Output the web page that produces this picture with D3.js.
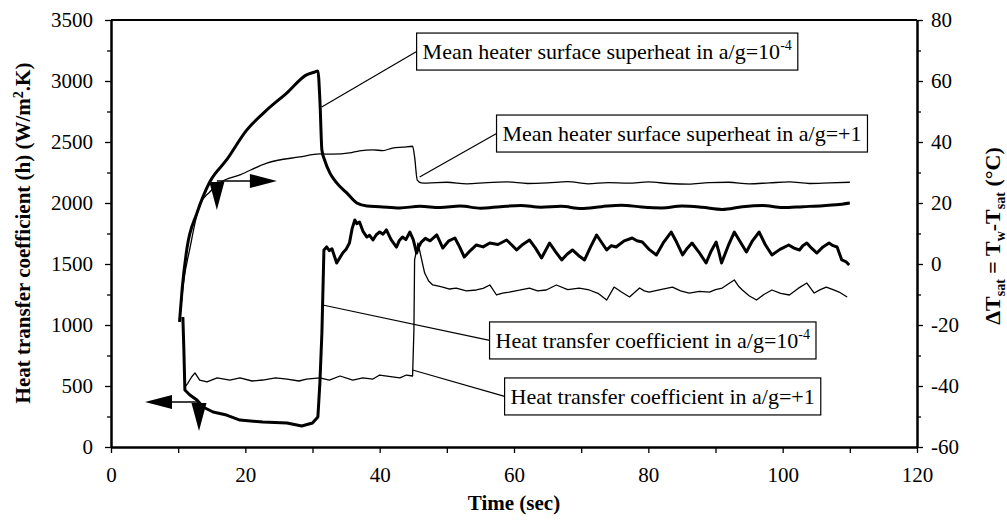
<!DOCTYPE html>
<html>
<head>
<meta charset="utf-8">
<script src="https://cdn.jsdelivr.net/npm/d3@7"></script>
<style>
body { margin: 0; background: #fff; }
text { font-family: "Liberation Serif", "Times New Roman", serif; fill: #000; }
.axis path, .axis line { stroke: #000; }
.axis .domain { stroke-width: 2; }
.axis .tick line { stroke-width: 1.3; }
.axis text { font-size: 21px; }
</style>
</head>
<body>
<script>
// superheat, a/g = 1e-4 (right axis, deg C)
var superheatMicroTime = [10.2, 10.6, 11.3, 12.8, 14.7, 17.2, 20.2, 23.2, 26.2, 29.1,
  30.4, 30.8, 31.1, 31.4, 31.8, 32.6, 33.6, 35.1, 36.6, 38.1,
  40, 43, 46, 49, 52, 55, 58, 61, 64, 67,
  70, 73, 76, 79, 82, 85, 88, 91, 94, 97,
  100, 103, 106, 108, 110];
var superheatMicro = [-19, -8, 5, 16.7, 26.9, 34.1, 43.9, 50.5, 56.1, 62.0,
  63.0, 63.3, 53.8, 37.4, 34.1, 29.8, 26.6, 23.3, 20.0, 19.0,
  18.8, 18.4, 18.9, 18.5, 19.0, 18.3, 18.8, 19.2, 18.6, 18.9,
  18.2, 18.8, 19.3, 18.7, 18.4, 19.0, 18.6, 17.9, 18.8, 19.2,
  18.5, 18.8, 19.1, 19.4, 20.0];

// superheat, a/g = +1 (right axis, deg C)
var superheatEarthTime = [10.2, 10.8, 11.7, 13.2, 14.7, 16.2, 19.2, 23.2, 28.1, 31.1,
  33, 35.5, 37, 39, 40.5, 41.9, 43.5, 44.9, 45.2, 45.6,
  46.2, 47, 50, 53, 56, 59, 62, 65, 68, 71,
  74, 77, 80, 83, 86, 89, 92, 95, 98, 101,
  104, 107, 110];
var superheatEarth = [-19, -6, 4.6, 19.3, 23.6, 26.6, 29.2, 33.1, 35.1, 36.1,
  36.0, 36.4, 37.1, 37.4, 37.2, 38.0, 38.3, 38.6, 35.1, 27.5,
  26.6, 26.5, 26.8, 26.3, 26.7, 26.9, 26.4, 26.6, 27.0, 26.3,
  26.7, 26.5, 26.9, 26.4, 26.2, 26.7, 26.8, 26.3, 26.6, 26.9,
  26.4, 26.6, 26.8];

// heat transfer coefficient, a/g = 1e-4 (left axis, W/m2.K)
var htcMicroTime = [10.7, 10.85, 11.0, 11.75, 12.8, 13.7, 15.2, 17.2, 19.2, 22.6,
  26.2, 28.4, 30.0, 30.8, 31.1, 31.4, 31.7, 32.1, 32.5, 32.9,
  33.6, 34.0, 34.5, 35.0, 35.5, 35.9, 36.3, 36.6, 37.0, 37.5,
  38.1, 38.5, 39.0, 39.5, 40.0, 40.5, 41.0, 41.7, 42.5, 42.9,
  43.4, 43.9, 44.5, 45.0, 45.5, 45.8, 46.2, 46.8, 47.5, 48.5,
  49.0, 49.4, 50.3, 51.2, 51.9, 52.6, 53.5, 54.4, 55.4, 56.4,
  57.6, 58.9, 59.6, 60.4, 61.3, 62.3, 63.2, 64.1, 64.7, 65.3,
  66.2, 67.1, 67.9, 68.7, 69.6, 70.5, 71.4, 72.3, 73.0, 73.8,
  74.5, 75.2, 76.4, 77.6, 78.3, 79.1, 80.1, 81.2, 82.3, 83.4,
  84.2, 85.1, 85.8, 86.5, 87.5, 88.6, 89.3, 90.1, 90.5, 90.9,
  91.9, 92.8, 93.7, 94.6, 95.5, 96.5, 97.4, 98.4, 99.6, 100.9,
  101.7, 102.5, 103.0, 103.6, 104.3, 105.1, 106.0, 106.9, 107.5, 108.1,
  108.8, 109.4, 109.9];
var htcMicro = [1066, 795, 467, 426, 385, 328, 287, 262, 221, 205,
  197, 172, 197, 246, 525, 934, 1615, 1640, 1610, 1625,
  1508, 1545, 1590, 1620, 1672, 1790, 1861, 1830, 1844, 1770,
  1721, 1735, 1697, 1740, 1762, 1745, 1779, 1700, 1639, 1690,
  1721, 1700, 1762, 1700, 1590, 1640, 1680, 1710, 1690, 1738,
  1680, 1631, 1690, 1713, 1640, 1557, 1610, 1656, 1640, 1672,
  1660, 1697, 1660, 1615, 1660, 1697, 1630, 1549, 1610, 1672,
  1600, 1533, 1580, 1615, 1570, 1533, 1640, 1738, 1680, 1615,
  1650, 1639, 1690, 1713, 1690, 1680, 1620, 1574, 1680, 1762,
  1680, 1574, 1630, 1672, 1600, 1508, 1600, 1680, 1600, 1508,
  1650, 1762, 1680, 1598, 1690, 1762, 1660, 1574, 1620, 1656,
  1630, 1615, 1650, 1672, 1630, 1590, 1640, 1672, 1650, 1639,
  1533, 1520, 1492];

// heat transfer coefficient, a/g = +1 (left axis, W/m2.K)
var htcEarthTime = [10.7, 11.0, 11.4, 12.0, 12.5, 13.2, 14.3, 15.8, 17.7, 19.2,
  21, 22.6, 24.5, 26.2, 28, 29.1, 31.1, 32.5, 34.1, 36.0,
  37.5, 39.0, 40.0, 41.9, 43, 44.0, 44.9, 45.1, 45.2, 45.7,
  46.2, 46.7, 47.3, 47.9, 48.6, 49.4, 50.4, 51.4, 52.9, 54.4,
  55.4, 56.4, 57.4, 58.3, 59.3, 60.8, 62.3, 63.5, 64.8, 66.3,
  68.0, 69.7, 71.2, 72.5, 73.8, 74.9, 76.0, 77.2, 78.7, 79.4,
  80.1, 81.8, 83.6, 84.8, 86.1, 87.6, 89.1, 90.0, 91.0, 92.0,
  92.8, 93.4, 94.0, 95.0, 96.1, 97.2, 98.4, 99.7, 101.0, 102.3,
  103.6, 104.7, 105.6, 106.5, 107.5, 108.4, 109.0, 109.6];
var htcEarth = [1066, 492, 520, 574, 607, 549, 533, 566, 549, 566,
  541, 549, 566, 557, 541, 557, 566, 549, 582, 549,
  566, 557, 590, 574, 566, 590, 582, 959, 1533, 1672,
  1549, 1426, 1360, 1328, 1320, 1311, 1295, 1303, 1280, 1287,
  1300, 1328, 1246, 1262, 1270, 1285, 1303, 1280, 1287, 1328,
  1290, 1303, 1287, 1260, 1205, 1311, 1270, 1230, 1303, 1280,
  1270, 1290, 1311, 1280, 1262, 1275, 1270, 1290, 1303, 1340,
  1369, 1320, 1287, 1240, 1205, 1250, 1287, 1260, 1246, 1300,
  1344, 1262, 1290, 1311, 1290, 1270, 1250, 1230];

var timeTicks = [0, 20, 40, 60, 80, 100, 120];
var htcTicks = [0, 500, 1000, 1500, 2000, 2500, 3000, 3500];
var superheatTicks = [-60, -40, -20, 0, 20, 40, 60, 80];

var width = 1007;
var height = 527;
var serif = "'Liberation Serif', 'Times New Roman', serif";

var x = d3.scaleLinear().domain([0, 120]).range([111, 917]);
var yH = d3.scaleLinear().domain([0, 3500]).range([447, 20]);
var yT = d3.scaleLinear().domain([-60, 80]).range([447, 20]);

var svg = d3.select("body")
  .append("svg")
  .attr("width", width)
  .attr("height", height);

function plainNumber(d) {
  return String(d);
}

function addAxis(axis, translate) {
  var g = svg.append("g")
    .attr("class", "axis")
    .attr("transform", translate)
    .call(axis)
    .attr("font-family", serif)
    .attr("font-size", 21);
  g.selectAll("text")
    .attr("font-family", serif)
    .style("font-family", serif);
}

// minor ticks first, then the labelled ones
addAxis(d3.axisBottom(x).tickValues(d3.range(10, 120, 20)).tickSize(6).tickSizeOuter(0).tickFormat(""),
  "translate(0,447)");
addAxis(d3.axisBottom(x).tickValues(timeTicks).tickSize(6).tickSizeOuter(0).tickPadding(14).tickFormat(plainNumber),
  "translate(0,447)");
addAxis(d3.axisLeft(yH).tickValues(d3.range(250, 3500, 500)).tickSize(4).tickSizeOuter(0).tickFormat(""),
  "translate(111,0)");
addAxis(d3.axisLeft(yH).tickValues(htcTicks).tickSize(6).tickSizeOuter(0).tickPadding(12).tickFormat(plainNumber),
  "translate(111,0)");
addAxis(d3.axisRight(yT).tickValues(d3.range(-50, 80, 20)).tickSize(4).tickSizeOuter(0).tickFormat(""),
  "translate(917,0)");
addAxis(d3.axisRight(yT).tickValues(superheatTicks).tickSize(6).tickSizeOuter(0).tickPadding(8).tickFormat(plainNumber),
  "translate(917,0)");

svg.append("line")
  .attr("x1", x(0)).attr("x2", x(120))
  .attr("y1", yH(3500)).attr("y2", yH(3500))
  .attr("stroke", "#000")
  .attr("stroke-width", 2);

// axis titles
svg.append("text")
  .attr("transform", "translate(30,233) rotate(-90)")
  .attr("text-anchor", "middle")
  .attr("font-size", "21px")
  .attr("font-weight", "bold")
  .call(function(t) {
    t.append("tspan").text("Heat transfer coefficient (h) (W/m");
    t.append("tspan").attr("dy", -7).attr("font-size", "14px").text("2");
    t.append("tspan").attr("dy", 7).text(".K)");
  });

svg.append("text")
  .attr("transform", "translate(1000,236) rotate(-90)")
  .attr("text-anchor", "middle")
  .attr("font-size", "22px")
  .attr("font-weight", "bold")
  .call(function(t) {
    t.append("tspan").text("\u0394T");
    t.append("tspan").attr("dy", 5).attr("font-size", "14px").text("sat");
    t.append("tspan").attr("dy", -5).text(" = T");
    t.append("tspan").attr("dy", 5).attr("font-size", "14px").text("w");
    t.append("tspan").attr("dy", -5).text("-T");
    t.append("tspan").attr("dy", 5).attr("font-size", "14px").text("sat");
    t.append("tspan").attr("dy", -5).text(" (\u00B0C)");
  });

svg.append("text")
  .attr("x", (x(0) + x(120)) / 2)
  .attr("y", 510)
  .attr("text-anchor", "middle")
  .attr("font-size", "21px")
  .attr("font-weight", "bold")
  .text("Time (sec)");

// curves
var lineH = d3.line()
  .x(function(d) { return x(d[0]); })
  .y(function(d) { return yH(d[1]); });
var lineT = d3.line()
  .curve(d3.curveMonotoneX)
  .x(function(d) { return x(d[0]); })
  .y(function(d) { return yT(d[1]); });

function drawCurve(path, data, widthPx) {
  svg.append("path")
    .datum(data)
    .attr("d", path)
    .attr("fill", "none")
    .attr("stroke", "#000")
    .attr("stroke-width", widthPx)
    .attr("stroke-linejoin", "round");
}

drawCurve(lineT, d3.zip(superheatEarthTime, superheatEarth), 1.3);
drawCurve(lineH, d3.zip(htcEarthTime, htcEarth), 1.3);
drawCurve(lineT, d3.zip(superheatMicroTime, superheatMicro), 3);
drawCurve(lineH, d3.zip(htcMicroTime, htcMicro), 3);

// callouts: box top-left and pointed spot, both in (time, h) units
var callouts = [
  { text: "Mean heater surface superheat in a/g=10", sup: "-4", boxT: 45.5, boxH: 3393, pT: 31.37, pH: 2787 },
  { text: "Mean heater surface superheat in a/g=+1", sup: "", boxT: 57.4, boxH: 2721, pT: 45.95, pH: 2213 },
  { text: "Heat transfer coefficient in a/g=10", sup: "-4", boxT: 56.36, boxH: 1025, pT: 31.52, pH: 1164 },
  { text: "Heat transfer coefficient in a/g=+1", sup: "", boxT: 58.6, boxH: 566, pT: 44.9, pH: 631 }
];
var boxHeight = 37;

callouts.forEach(function(c) {
  var bx = x(c.boxT);
  var by = yH(c.boxH);
  svg.append("line")
    .attr("x1", x(c.pT)).attr("y1", yH(c.pH))
    .attr("x2", bx).attr("y2", by + boxHeight / 2)
    .attr("stroke", "#000")
    .attr("stroke-width", 1.2);
  var rect = svg.append("rect")
    .attr("x", bx).attr("y", by)
    .attr("height", boxHeight)
    .attr("fill", "#fff")
    .attr("stroke", "#000")
    .attr("stroke-width", 1.2);
  var label = svg.append("text")
    .attr("x", bx + 6)
    .attr("y", by + 26)
    .attr("font-size", "22px")
    .text(c.text);
  if (c.sup) {
    label.append("tspan").attr("dy", -9).attr("font-size", "14px").text(c.sup);
  }
  rect.attr("width", label.node().getBBox().width + 12);
});

// axis arrows: down triangle on the curve, horizontal arrow to its axis
var arrows = [
  { t: 15.76, h: 2180, tipT: 24.7 },
  { t: 13.1, h: 369, tipT: 5.06 }
];

arrows.forEach(function(a) {
  var ax = x(a.t), ay = yH(a.h), tx = x(a.tipT);
  var dir = tx > ax ? 1 : -1;
  svg.append("line")
    .attr("x1", ax).attr("y1", ay)
    .attr("x2", tx - dir * 20).attr("y2", ay)
    .attr("stroke", "#000")
    .attr("stroke-width", 1.5);
  svg.append("path")
    .attr("d", "M" + tx + "," + ay + "L" + (tx - dir * 27) + "," + (ay - 7) +
      "L" + (tx - dir * 27) + "," + (ay + 7) + "Z")
    .attr("fill", "#000");
  svg.append("path")
    .attr("d", "M" + (ax - 7.5) + "," + (ay + 1) + "L" + (ax + 7.5) + "," + (ay + 1) +
      "L" + ax + "," + (ay + 29) + "Z")
    .attr("fill", "#000");
});
</script>
</body>
</html>
